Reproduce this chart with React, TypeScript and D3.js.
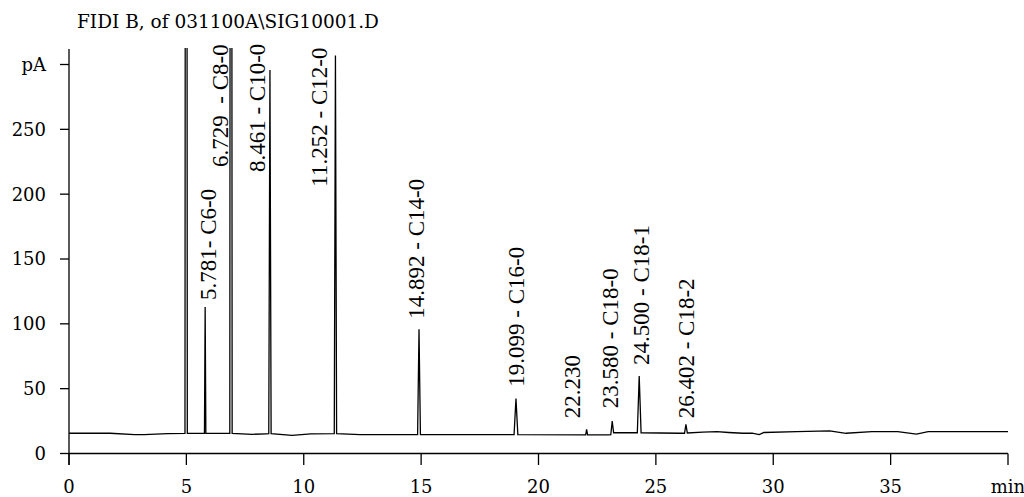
import React from "react";
import * as d3 from "d3";

// Chromatogram trace: [retention time (min), signal (pA)]
const trace: [number, number][] = [
  [0, 15.6], [1.75, 15.6], [2.8, 14.6], [3.2, 14.6], [4.2, 15.3],
  [4.94, 15.5], [4.99, 1500], [5.04, 15.5],
  [5.77, 15.5], [5.8, 113], [5.83, 15.5],
  [6.85, 15.5], [6.9, 1500], [6.95, 15.5],
  [7.8, 14.8], [8.4, 15.2],
  [8.51, 15.3], [8.56, 295.7], [8.61, 15.4],
  [9.5, 14.0], [10.3, 15.2],
  [11.3, 15.3], [11.35, 307], [11.4, 15.3],
  [12.4, 14.5],
  [14.85, 14.5], [14.91, 95.8], [14.97, 14.5],
  [18.96, 14.6], [19.04, 42.3], [19.12, 14.6],
  [22.01, 14.3], [22.05, 18.7], [22.09, 14.3],
  [23.0, 14.3], [23.08, 14.5], [23.14, 25], [23.2, 16.0],
  [24.21, 16.0], [24.29, 59.8], [24.37, 16.0],
  [26.0, 15.6], [26.22, 15.6], [26.28, 22.5], [26.34, 15.8],
  [27.0, 16.5], [27.6, 16.8], [28.1, 16.2], [28.7, 15.6], [29.1, 15.7],
  [29.4, 14.6], [29.6, 16.2], [31.0, 16.8], [32.4, 17.4], [33.1, 15.6],
  [34.2, 16.8], [35.3, 16.8], [36.1, 15.0], [36.6, 16.8], [40, 16.8],
];

// Peak annotations
const labelTexts = [
  "5.781- C6-0",
  "6.729  - C8-0",
  "8.461 - C10-0",
  "11.252 - C12-0",
  "14.892 - C14-0",
  "19.099 - C16-0",
  "22.230",
  "23.580 - C18-0",
  "24.500 - C18-1",
  "26.402 - C18-2",
];
const labelTimes = [5.92, 6.47, 8.03, 10.65, 14.78, 19.04, 21.46, 23.08, 24.39, 26.3];
const labelValues = [118.4, 221, 217, 205.8, 104, 51.5, 27.1, 34.9, 68.3, 27.1];

const xTicks = [0, 5, 10, 15, 20, 25, 30, 35, 40];
const xTickLabels = ["0", "5", "10", "15", "20", "25", "30", "35", "min"];
const yTicks = [0, 50, 100, 150, 200, 250, 300];
const yTickLabels = ["0", "50", "100", "150", "200", "250", "pA"];

const title = "FIDI B, of 031100A\\SIG10001.D";

export default function App() {
  const W = 1024;
  const H = 497;
  const x = d3.scaleLinear().domain([0, 40]).range([69, 1008]);
  const y = d3.scaleLinear().domain([0, 300]).range([453.5, 64.5]);
  const line = d3
    .line<[number, number]>()
    .x((d) => x(d[0]))
    .y((d) => y(d[1]));

  const tickFont = "'DejaVu Serif', serif";
  const labelFont = "'Liberation Serif', 'Times New Roman', serif";
  const y0 = y(0);
  const x0 = x(0);

  return (
    <svg
      width={W}
      height={H}
      style={{ position: "absolute", left: 0, top: 0, background: "#fff" }}
    >
      <defs>
        <clipPath id="plotClip">
          <rect x={x0} y={48} width={x(40) - x0 + 2} height={y0 - 48 + 2} />
        </clipPath>
      </defs>
      <text x={77} y={28} fontFamily={tickFont} fontSize={18.5} fill="#000">
        {title}
      </text>

      {/* y axis */}
      <line x1={x0} x2={x0} y1={49} y2={465} stroke="#000" strokeWidth={1.3} />
      {yTicks.map((t, i) => (
        <g key={"y" + t}>
          <line x1={60} x2={x0} y1={y(t)} y2={y(t)} stroke="#000" strokeWidth={1.3} />
          <text
            x={46}
            y={y(t)}
            dy="0.36em"
            textAnchor="end"
            fontFamily={tickFont}
            fontSize={18}
            fill="#000"
          >
            {yTickLabels[i]}
          </text>
        </g>
      ))}

      {/* x axis */}
      <line x1={x0} x2={x(40)} y1={y0} y2={y0} stroke="#000" strokeWidth={1.3} />
      {xTicks.map((t, i) => (
        <g key={"x" + t}>
          <line x1={x(t)} x2={x(t)} y1={y0} y2={465} stroke="#000" strokeWidth={1.3} />
          <text
            x={x(t)}
            y={493}
            textAnchor="middle"
            fontFamily={tickFont}
            fontSize={18}
            fill="#000"
          >
            {xTickLabels[i]}
          </text>
        </g>
      ))}

      {/* trace */}
      <path
        d={line(trace) || ""}
        fill="none"
        stroke="#000"
        strokeWidth={1.3}
        strokeLinejoin="miter"
        clipPath="url(#plotClip)"
      />

      {/* peak labels */}
      {labelTexts.map((s, i) => {
        const lx = x(labelTimes[i]);
        const ly = y(labelValues[i]);
        return (
          <text
            key={"l" + i}
            transform={`translate(${lx},${ly}) rotate(-90)`}
            dy="0.33em"
            fontFamily={labelFont}
            fontSize={23}
            fill="#000"
            style={{ whiteSpace: "pre" }}
          >
            {s}
          </text>
        );
      })}
    </svg>
  );
}
